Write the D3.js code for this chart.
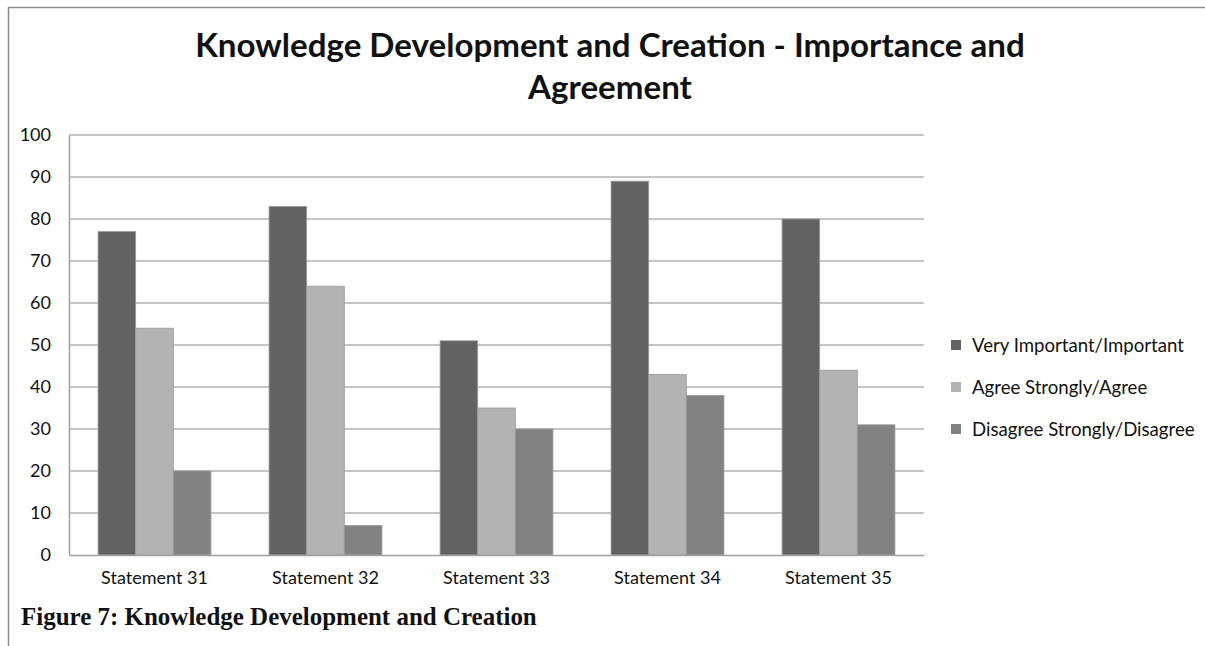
<!DOCTYPE html>
<html>
<head>
<meta charset="utf-8">
<script src="https://cdn.jsdelivr.net/npm/d3@7"></script>
<style>
  html, body { margin: 0; padding: 0; background: #fff; }
  svg { display: block; }
</style>
</head>
<body>
<svg id="chart" width="1205" height="646"></svg>
<script>
// Survey results: share of respondents per statement
const categories = ["Statement 31", "Statement 32", "Statement 33", "Statement 34", "Statement 35"];
const seriesNames = ["Very Important/Important", "Agree Strongly/Agree", "Disagree Strongly/Disagree"];
const veryImportant = [77, 83, 51, 89, 80];
const agree = [54, 64, 35, 43, 44];
const disagree = [20, 7, 30, 38, 31];
const yTicks = [0, 10, 20, 30, 40, 50, 60, 70, 80, 90, 100];
const seriesColors = ["#626262", "#b3b3b3", "#828282"];

const seriesValues = [veryImportant, agree, disagree];
const rows = categories.map((c, i) => ({
  category: c,
  values: seriesNames.map((s, j) => ({ series: s, value: seriesValues[j][i] }))
}));

const svg = d3.select("#chart");
const sans = "Lato, 'Open Sans', sans-serif";

// measure a string at a given font and return the size that gives the wanted width
const probe = svg.append("text").attr("font-family", sans).attr("opacity", 0);
function sizeFor(str, weight, target) {
  probe.attr("font-size", 20).attr("font-weight", weight).text(str);
  const w = probe.node().getComputedTextLength();
  return w > 0 ? 20 * target / w : 16;
}
const labelSize = sizeFor("Statement 31", "normal", 107);
const legendSize = sizeFor("Very Important/Important", "normal", 212);
const titleSize = sizeFor("Knowledge Development and Creation - Importance and", "bold", 830);
probe.remove();

// frame around the figure
svg.append("path")
  .attr("d", "M8.5,646 L8.5,7.5 L1205,7.5")
  .attr("fill", "none").attr("stroke", "#8c8c8c").attr("stroke-width", 1.5);

const plot = { left: 69, right: 924, top: 135, bottom: 555 };

const x0 = d3.scaleBand().domain(categories).range([plot.left, plot.right]).paddingInner(0.34).paddingOuter(0.17);
const x1 = d3.scaleBand().domain(seriesNames).range([0, x0.bandwidth()]).padding(0);
const y = d3.scaleLinear().domain([0, 100]).range([plot.bottom, plot.top]);
const color = d3.scaleOrdinal().domain(seriesNames).range(seriesColors);

// horizontal gridlines
svg.append("g")
  .selectAll("line").data(yTicks.filter(t => t > 0)).join("line")
  .attr("x1", plot.left).attr("x2", plot.right)
  .attr("y1", d => y(d)).attr("y2", d => y(d))
  .attr("stroke", "#b0b0b0").attr("stroke-width", 1.5);

// y axis
const yAxis = svg.append("g")
  .attr("transform", `translate(${plot.left},0)`)
  .call(d3.axisLeft(y).tickValues(yTicks).tickSize(0).tickPadding(18));
yAxis.select(".domain").attr("stroke", "#a0a0a0").attr("stroke-width", 1.5);
yAxis.selectAll("text").attr("font-family", sans).attr("font-size", labelSize).attr("fill", "#111");

// bars
svg.append("g")
  .selectAll("g").data(rows).join("g")
  .attr("transform", d => `translate(${x0(d.category)},0)`)
  .selectAll("rect").data(d => d.values).join("rect")
  .attr("x", d => x1(d.series))
  .attr("width", x1.bandwidth())
  .attr("y", d => y(d.value))
  .attr("height", d => y(0) - y(d.value))
  .attr("fill", d => color(d.series))
  .attr("stroke", "#9a9a9a").attr("stroke-width", 0.8);

// x axis
const xAxis = svg.append("g")
  .attr("transform", `translate(0,${plot.bottom})`)
  .call(d3.axisBottom(x0).tickSize(0).tickPadding(16));
xAxis.select(".domain").attr("stroke", "#a0a0a0").attr("stroke-width", 1.5);
xAxis.selectAll("text").attr("font-family", sans).attr("font-size", labelSize).attr("fill", "#111");

// legend
const legend = svg.append("g").attr("transform", "translate(951,345)");
const item = legend.selectAll("g").data(seriesNames).join("g")
  .attr("transform", (d, i) => `translate(0,${i * 42})`);
item.append("rect").attr("x", 0).attr("y", -5).attr("width", 10).attr("height", 10)
  .attr("fill", d => color(d));
item.append("text").attr("x", 21).attr("y", 0).attr("dy", "0.35em")
  .attr("font-family", sans).attr("font-size", legendSize).attr("fill", "#111")
  .text(d => d);

// title
svg.append("text").attr("x", 610).attr("y", 57).attr("text-anchor", "middle")
  .attr("font-family", sans).attr("font-weight", "bold").attr("font-size", titleSize).attr("fill", "#111")
  .text("Knowledge Development and Creation - Importance and");
svg.append("text").attr("x", 610).attr("y", 99).attr("text-anchor", "middle")
  .attr("font-family", sans).attr("font-weight", "bold").attr("font-size", titleSize).attr("fill", "#111")
  .text("Agreement");

// caption
const cap = svg.append("text").attr("x", 21).attr("y", 625)
  .attr("font-family", "'Liberation Serif', 'Times New Roman', serif").attr("font-weight", "bold")
  .attr("font-size", 20).attr("fill", "#111")
  .text("Figure 7: Knowledge Development and Creation");
const cw = cap.node().getComputedTextLength();
if (cw > 0) cap.attr("font-size", 20 * 516 / cw);
</script>
</body>
</html>
